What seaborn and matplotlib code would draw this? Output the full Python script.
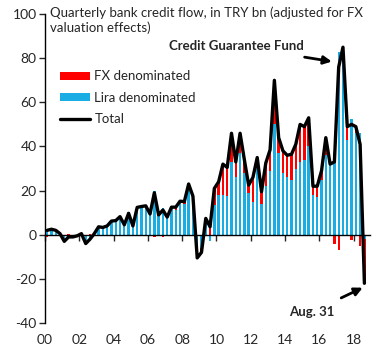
import numpy as np
import seaborn as sns
import matplotlib.pyplot as plt
from matplotlib.patches import Patch
from matplotlib.lines import Line2D

# quarterly observations, 2000Q1 .. 2018Q3 (last one to Aug. 31)
quarter = list(range(75))

total = [2, 2.5, 2, 0.5, -3, -1, -1, -0.5, 0.5, -4,
         -2, 0.5, 3.6, 3.3, 4, 6.2, 6.4, 8.2, 4.5, 9.7,
         4, 12.4, 12.8, 13.1, 9.4, 19, 9, 11.2, 8, 12.5,
         12.5, 15.2, 15, 23, 17.5, -10.5, -8, 7.4, 3.6, 21,
         24, 32, 30.5, 46, 33, 46, 34, 22.5, 26, 35,
         19.5, 32.5, 38.5, 70, 44, 38, 36, 36.5, 41, 50,
         49, 53, 22, 22, 29, 44, 32, 33, 76, 85,
         49, 50, 49, 41, -22]

fx = [-0.8, 0.3, 0.3, 0, -0.8, 0.2, 0, -0.6, 0.2, 0,
      0.3, 0.5, 0.3, 0.3, 0.3, 0.5, 0.5, 0.3, 0.5, -0.5,
      0.5, 0.5, 0.5, 0.3, 0.5, -1.0, 0.5, -1.0, 0.5, 0.5,
      1.5, 0.5, 1.0, 1.5, 1.0, -2, -2, -0.6, 6.6, 7.5,
      6, 14, 13, 13, 7, 9, 6, 3.5, 11, 4,
      5.5, 10.5, 9.5, 20, 7, 10, 10, 11.5, 11, 17,
      15, 13, 4, 5, 4, 8, 0, -4, -7, 1,
      6, -2.5, 3, -5, -20]

lira = [2.8, 2.2, 1.7, 0.5, -2.2, -1.2, -1, 0.1, 0.3, -4,
        -2.3, 0, 3.3, 3.0, 3.7, 5.7, 5.9, 7.9, 4.0, 10.2,
        3.5, 11.9, 12.3, 12.8, 8.9, 20.0, 8.5, 12.2, 7.5, 12.0,
        11.0, 14.7, 14.0, 21.5, 16.5, -8.5, -6, 8.0, -3.0, 13.5,
        18, 18, 17.5, 33, 26, 37, 28, 19, 15, 31,
        14, 22, 29, 50, 37, 28, 26, 25, 30, 33,
        34, 40, 18, 17, 25, 36, 32, 37, 83, 84,
        43, 52.5, 46, 46, -2]

year_labels = ['00', '02', '04', '06', '08', '10', '12', '14', '16', '18']

RED = '#FF0000'
CYAN = '#1AADE4'

sns.set_style('white')
plt.rcParams['font.family'] = ['Lato', 'DejaVu Sans']
plt.rcParams['axes.unicode_minus'] = False

fig = plt.figure(figsize=(3.83, 3.6), dpi=100)
ax = fig.add_axes([0.1175, 0.1028, 0.8485, 0.858])

# fx sits on top of lira when signs agree, otherwise starts at zero
lira_arr = np.array(lira)
fx_arr = np.array(fx)
fx_bottom = np.where(fx_arr >= 0, np.maximum(lira_arr, 0), np.minimum(lira_arr, 0))

sns.barplot(x=quarter, y=lira, color=CYAN, width=0.55, saturation=1,
            errorbar=None, linewidth=0, ax=ax)
sns.barplot(x=quarter, y=fx, color=RED, width=0.55, saturation=1,
            errorbar=None, linewidth=0, bottom=fx_bottom, ax=ax)
sns.lineplot(x=quarter, y=total, color='black', linewidth=2.4,
             solid_joinstyle='round', ax=ax)

ax.set_xlim(-0.5, 75.3)
ax.set_ylim(-40, 100)
ax.set_yticks(range(-40, 101, 20))
ax.tick_params(axis='y', labelsize=10, length=4, width=1, direction='out',
               left=True, pad=2)

tick_pos = [-0.5 + 8 * k for k in range(len(year_labels))]
ax.set_xticks(tick_pos)
ax.set_xticklabels([])
ax.tick_params(axis='x', length=4, width=1, direction='out', bottom=True)
ax.spines['bottom'].set_position(('data', 0))
for s in ['top', 'right']:
    ax.spines[s].set_visible(False)
for s in ['left', 'bottom']:
    ax.spines[s].set_color('black')
    ax.spines[s].set_linewidth(1)
ax.set_xlabel('')
ax.set_ylabel('')

for pos, lab in zip(tick_pos, year_labels):
    ax.annotate(lab, xy=(pos, 0), xycoords=('data', 'axes fraction'),
                xytext=(0, -12.5), textcoords='offset points',
                ha='center', va='center', fontsize=10)

ax.text(0.015, 1.025, 'Quarterly bank credit flow, in TRY bn (adjusted for FX\nvaluation effects)',
        transform=ax.transAxes, ha='left', va='top', fontsize=9.5, linespacing=1.25)

handles = [Patch(facecolor=RED, edgecolor='none'),
           Patch(facecolor=CYAN, edgecolor='none'),
           Line2D([0], [0], color='black', lw=2.4)]
ax.legend(handles, ['FX denominated', 'Lira denominated', 'Total'],
          loc='upper left', bbox_to_anchor=(0.03, 0.835), frameon=False,
          fontsize=9.5, handlelength=2.3, handleheight=0.6, handletextpad=0.3,
          labelspacing=0.72, borderaxespad=0)

ax.annotate('Credit Guarantee Fund', xy=(66.4, 78.5), xytext=(44.1, 85.5),
            ha='center', va='center', fontsize=9.5, fontweight='bold',
            arrowprops=dict(arrowstyle='-|>', color='black', lw=2,
                            mutation_scale=12, shrinkA=8, shrinkB=0))
ax.annotate('Aug. 31', xy=(73.6, -24), xytext=(61.7, -35),
            ha='center', va='center', fontsize=9.5, fontweight='bold',
            arrowprops=dict(arrowstyle='-|>', color='black', lw=2,
                            mutation_scale=12, shrinkA=8, shrinkB=0))

fig.savefig('out.png', dpi=100)
